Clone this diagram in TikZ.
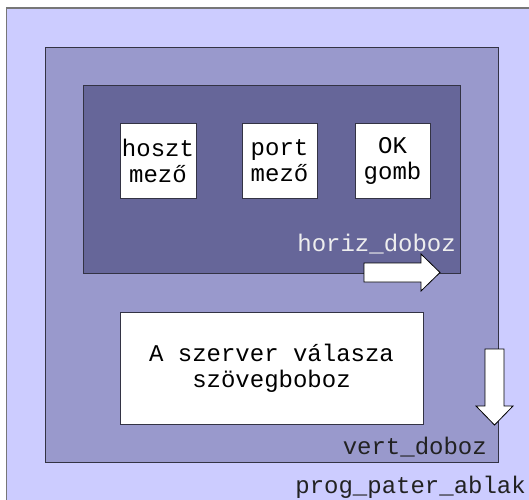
\documentclass[tikz,border=0pt]{standalone}
\usepackage{fontspec}
\setmonofont{Liberation Mono}
\definecolor{winfill}{HTML}{CCCCFF}
\definecolor{vertfill}{HTML}{9999CC}
\definecolor{horizfill}{HTML}{666699}
\definecolor{edgegray}{HTML}{777777}
\definecolor{edgedark}{HTML}{333344}
\definecolor{labeldark}{HTML}{222222}
\definecolor{labellight}{HTML}{EEEEEE}
\begin{document}
\begin{tikzpicture}[x=1pt,y=-1pt,
  mono/.style={font=\ttfamily\fontsize{24}{26}\selectfont},
  widget/.style={draw=edgedark, line width=0.8pt, fill=white, mono, align=center, inner sep=0pt},
  boxlabel/.style={mono, anchor=east, inner sep=0pt},
  flowarrow/.style={draw=black, line width=0.8pt, fill=white, line join=miter}]
\useasboundingbox (0,0) rectangle (529,499);
\begin{scope}
\clip (0,0) rectangle (529,499);
% window
\draw[edgegray, line width=1.2pt, fill=winfill] (6.5,8) rectangle (560,530);
% vertical box
\draw[edgedark, line width=0.9pt, fill=vertfill] (45,47) rectangle (498,462);
% horizontal box
\draw[edgedark, line width=0.9pt, fill=horizfill] (83,85) rectangle (460,273);
\end{scope}
% widgets in the horizontal box
\node[widget, minimum width=76pt, minimum height=75pt] (hoszt) at (158,160.5) {hoszt\\mező};
\node[widget, minimum width=75pt, minimum height=75pt] (port) at (279.5,160.5) {port\\mező};
\node[widget, minimum width=75pt, minimum height=75pt] (ok) at (392.5,160.5) {OK\\gomb};
% response text box
\node[widget, minimum width=303pt, minimum height=112pt] (valasz) at (271.5,368) {A szerver válasza\\szövegboboz};
% box labels
\node[boxlabel, text=labellight] (hlabel) at (456,244) {horiz\_doboz};
\node[boxlabel, text=labeldark] (vlabel) at (487,447) {vert\_doboz};
\node[boxlabel, text=labeldark] (wlabel) at (526,487) {prog\_pater\_ablak};
% packing direction arrows
\draw[flowarrow] (364,263) -- (421,263) -- (421,254) -- (440,272.5) -- (421,291) -- (421,282) -- (364,282) -- cycle;
\draw[flowarrow] (485,349) -- (504,349) -- (504,406) -- (513,406) -- (494.5,425) -- (476,406) -- (485,406) -- cycle;
\end{tikzpicture}
\end{document}
